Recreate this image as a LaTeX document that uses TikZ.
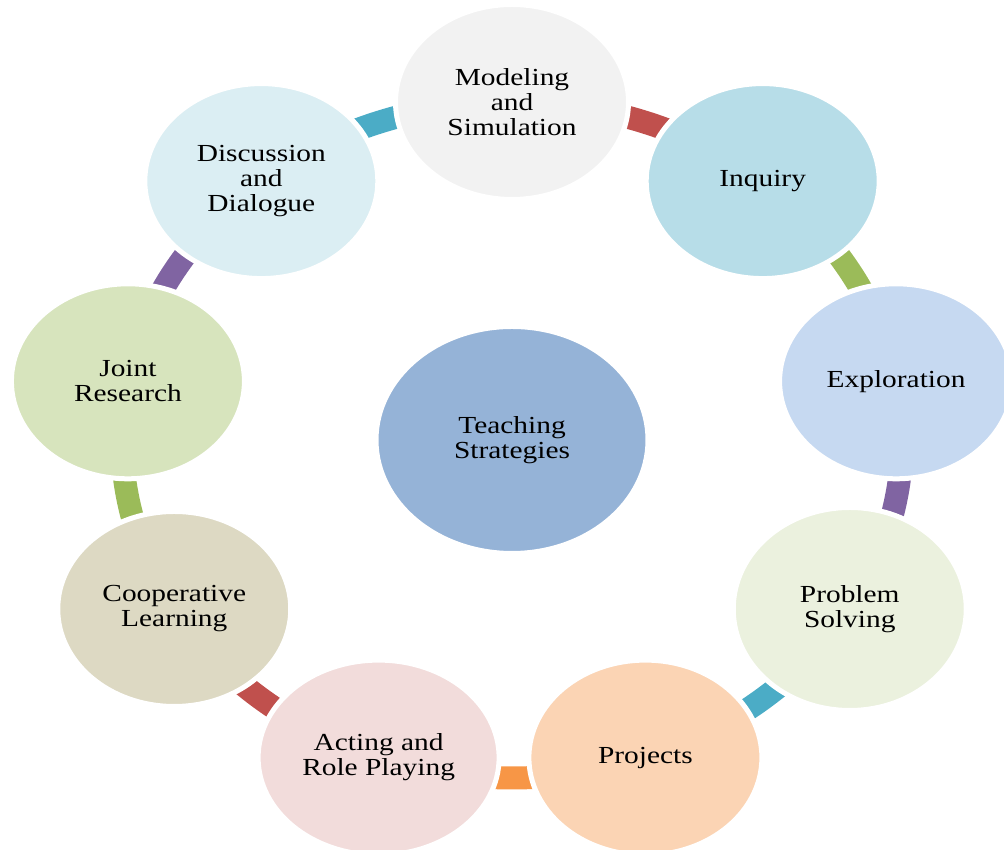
\documentclass[tikz,border=0pt]{standalone}
\usepackage{fontspec}
\setmainfont{Liberation Serif}[FakeStretch=1.2]
\usetikzlibrary{shapes.geometric,backgrounds}
\definecolor{cMod}{HTML}{F2F2F2}
\definecolor{cInq}{HTML}{B7DDE8}
\definecolor{cExp}{HTML}{C6D9F1}
\definecolor{cPS}{HTML}{EBF1DE}
\definecolor{cProj}{HTML}{FBD4B4}
\definecolor{cAct}{HTML}{F2DCDB}
\definecolor{cCoop}{HTML}{DDD9C3}
\definecolor{cJoint}{HTML}{D7E4BD}
\definecolor{cDisc}{HTML}{DBEEF3}
\definecolor{cTeach}{HTML}{95B3D7}
\definecolor{kRed}{HTML}{C0504D}
\definecolor{kGreen}{HTML}{9BBB59}
\definecolor{kPurple}{HTML}{8064A2}
\definecolor{kCyan}{HTML}{4BACC6}
\definecolor{kOrange}{HTML}{F79646}
\begin{document}
\begin{tikzpicture}[x=1pt,y=1pt,
  ringnode/.style={ellipse, minimum width=233pt, minimum height=195pt, inner sep=0pt,
    draw=white, line width=5pt, align=center, text=black,
    font=\fontsize{24.5pt}{25pt}\selectfont},
  conn/.style={line width=23pt},
  ringarc/.style={x radius=390pt, y radius=338pt}]
\useasboundingbox (0,0) rectangle (1004,850);
\begin{scope}[shift={(512,410)}]
  \node[ringnode, fill=cMod]   (mod)   at (90:390pt and 338pt)   {Modeling\\and\\Simulation};
  \node[ringnode, fill=cInq]   (inq)   at (50:390pt and 338pt)   {Inquiry};
  \node[ringnode, fill=cExp]   (exp)   at (10:390pt and 338pt)   {Exploration};
  \node[ringnode, fill=cPS, minimum height=203pt] (ps) at (-30:390pt and 338pt) {Problem\\Solving};
  \node[ringnode, fill=cProj]  (proj)  at (-70:390pt and 338pt)  {Projects};
  \node[ringnode, fill=cAct, minimum width=241pt]  (act) at (-110:390pt and 338pt) {Acting and\\Role Playing};
  \node[ringnode, fill=cCoop]  (coop)  at (-150:390pt and 338pt) {Cooperative\\Learning};
  \node[ringnode, fill=cJoint] (joint) at (170:390pt and 338pt)  {Joint\\Research};
  \node[ringnode, fill=cDisc]  (disc)  at (130:390pt and 338pt)  {Discussion\\and\\Dialogue};
  \node[ringnode, fill=cTeach, minimum width=272pt, minimum height=227pt] (ts) at (0,0) {Teaching\\Strategies};
  \begin{scope}[on background layer]
    \draw[conn, kRed]    (mod.center)   arc[ringarc, start angle=90,   end angle=50];
    \draw[conn, kGreen]  (inq.center)   arc[ringarc, start angle=50,   end angle=10];
    \draw[conn, kPurple] (exp.center)   arc[ringarc, start angle=10,   end angle=-30];
    \draw[conn, kCyan]   (ps.center)    arc[ringarc, start angle=-30,  end angle=-70];
    \draw[conn, kOrange] (proj.center)  arc[ringarc, start angle=-70,  end angle=-110];
    \draw[conn, kRed]    (act.center)   arc[ringarc, start angle=-110, end angle=-150];
    \draw[conn, kGreen]  (coop.center)  arc[ringarc, start angle=-150, end angle=-190];
    \draw[conn, kPurple] (joint.center) arc[ringarc, start angle=170,  end angle=130];
    \draw[conn, kCyan]   (disc.center)  arc[ringarc, start angle=130,  end angle=90];
  \end{scope}
\end{scope}
\end{tikzpicture}
\end{document}
